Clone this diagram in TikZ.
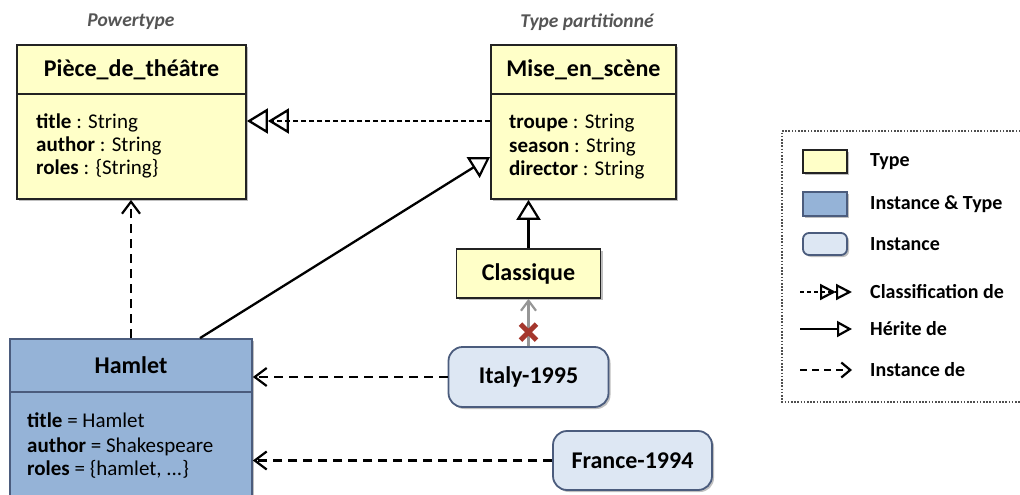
\documentclass[tikz,border=0pt]{standalone}
\usepackage{fontspec}
\setmainfont{Carlito}
\usetikzlibrary{arrows.meta,shadows,calc}
\definecolor{typeYellow}{RGB}{255,255,200}
\definecolor{itBlue}{RGB}{149,179,215}
\definecolor{instFill}{RGB}{221,231,243}
\definecolor{instLine}{RGB}{75,92,125}
\definecolor{boxLine}{RGB}{35,35,35}
\definecolor{capGray}{RGB}{85,85,85}
\definecolor{crossRed}{RGB}{165,55,45}
\definecolor{grayArrow}{RGB}{150,150,150}
\tikzset{
  shd/.style={drop shadow={shadow xshift=2pt,shadow yshift=-2pt,opacity=0.25,fill=black}},
  typebox/.style={draw=boxLine,line width=1.8pt,fill=typeYellow,shd,inner sep=0pt},
  itbox/.style={draw=instLine,line width=1.8pt,fill=itBlue,shd,inner sep=0pt},
  instbox/.style={draw=instLine,line width=1.8pt,fill=instFill,rounded corners=14pt,shd,inner sep=0pt,
     font=\fontsize{24}{26}\selectfont\bfseries},
  hdr/.style={font=\fontsize{24}{26}\selectfont\bfseries},
  attr/.style={font=\fontsize{21}{23}\selectfont,anchor=base west,inner sep=0pt},
  capt/.style={font=\fontsize{19.5}{21}\selectfont\bfseries\itshape,text=capGray,inner sep=0pt},
  legtxt/.style={font=\fontsize{20}{22}\selectfont\bfseries,anchor=west,inner sep=0pt},
  inhr/.style={line width=2.3pt,-{Triangle[open,length=20pt,width=24pt,line width=2.2pt]}},
  clsf/.style={line width=2pt,dash pattern=on 5pt off 3pt,
     -{Triangle[open,length=21pt,width=25pt,line width=2.3pt] Triangle[open,length=21pt,width=25pt,line width=2.3pt]}},
  instof/.style={line width=2.3pt,dash pattern=on 9pt off 6pt,-{Straight Barb[length=12pt,width=18pt,line width=2.2pt]}},
}
\begin{document}
\begin{tikzpicture}[x=1pt,y=-1pt]
\useasboundingbox (0,0) rectangle (1020,495);

% captions
\node[capt] (capPiece) at (131,22) {Powertype};
\node[capt] (capMise) at (587,22) {Type partitionné};

% Piece_de_theatre
\node[typebox,minimum width=229pt,minimum height=49pt] (pieceHead) at (131.5,69.5) {};
\node[typebox,minimum width=229pt,minimum height=105pt] (pieceBody) at (131.5,146.5) {};
\node[hdr] (pieceTitle) at (pieceHead.center) {Pièce\_de\_théâtre};
\node[attr] (pa1) at (36,128) {\textbf{title} : String};
\node[attr] (pa2) at (36,151) {\textbf{author} : String};
\node[attr] (pa3) at (36,174) {\textbf{roles} : \{String\}};

% Mise_en_scene
\node[typebox,minimum width=185pt,minimum height=49pt] (miseHead) at (583.5,69.5) {};
\node[typebox,minimum width=185pt,minimum height=105pt] (miseBody) at (583.5,146.5) {};
\node[hdr] (miseTitle) at (miseHead.center) {Mise\_en\_scène};
\node[attr] (ma1) at (509,128) {\textbf{troupe} : String};
\node[attr] (ma2) at (509,152) {\textbf{season} : String};
\node[attr] (ma3) at (509,175) {\textbf{director} : String};

% Classique
\node[typebox,minimum width=144pt,minimum height=49pt,hdr] (classique) at (528.5,273.5) {Classique};

% Hamlet
\node[itbox,minimum width=242pt,minimum height=53pt] (hamletHead) at (131,365.5) {};
\node[itbox,minimum width=242pt,minimum height=128pt] (hamletBody) at (131,456) {};
\node[hdr] (hamletTitle) at (hamletHead.center) {Hamlet};
\node[attr] (ha1) at (27,427) {\textbf{title} = Hamlet};
\node[attr] (ha2) at (27,452) {\textbf{author} = Shakespeare};
\node[attr] (ha3) at (27,475) {\textbf{roles} = \{hamlet, ...\}};

% instances
\node[instbox,minimum width=160pt,minimum height=60pt] (italy) at (528.5,377) {Italy-1995};
\node[instbox,minimum width=159pt,minimum height=59pt] (france) at (632.5,460.5) {France-1994};

% connectors
\draw[clsf] ($(miseBody.west)+(0,-25.5)$) -- ($(pieceBody.east)+(0,-25.5)$);
\draw[inhr] ([xshift=69pt]hamletHead.north) -- ($(miseBody.west)+(0,10.5)$);
\draw[inhr] (classique.north) -- (classique.north |- miseBody.south);
\draw[instof] (hamletHead.north) -- (hamletHead.north |- pieceBody.south);
\draw[instof] (italy.west) -- (italy.west -| hamletHead.east);
\draw[instof] (france.west) -- (france.west -| hamletBody.east);
\draw[grayArrow,line width=2.2pt,-{Straight Barb[length=10pt,width=15pt,line width=2.2pt]}] (italy.north) -- (classique.south);
\coordinate (xc) at ($(italy.north)+(0,-14)$);
\draw[crossRed,line width=5pt] ($(xc)+(-8,-8)$) -- ($(xc)+(8,8)$) ($(xc)+(-8,8)$) -- ($(xc)+(8,-8)$);

% legend
\draw[boxLine!80,line width=1.6pt,dash pattern=on 1.6pt off 1.6pt] (1030,131) -- (782,131) -- (782,402) -- (1030,402);
\node[typebox,minimum width=44pt,minimum height=23pt] (lgType) at (825,161.5) {};
\node[itbox,minimum width=44pt,minimum height=24pt] (lgIT) at (825,204) {};
\node[instbox,rounded corners=6pt,minimum width=44pt,minimum height=22pt] (lgInst) at (825,244) {};
\node[legtxt] (ltType) at (870,162) {Type};
\node[legtxt] (ltIT) at (870,204) {Instance \& Type};
\node[legtxt] (ltInst) at (870,244) {Instance};
\node[legtxt] (ltCls) at (870,292) {Classification de};
\node[legtxt] (ltInh) at (870,329) {Hérite de};
\node[legtxt] (ltIns) at (870,370) {Instance de};
\coordinate (c1a) at (800,292); \coordinate (c1b) at (852,292);
\coordinate (c2a) at (800,329); \coordinate (c2b) at (852,329);
\coordinate (c3a) at (800,370); \coordinate (c3b) at (852,370);
\draw[line width=2pt,dash pattern=on 4pt off 3pt,
  -{Triangle[open,length=16pt,width=16pt,line width=2.2pt] Triangle[open,length=16pt,width=16pt,line width=2.2pt]}] (c1a) -- (c1b);
\draw[line width=2.3pt,-{Triangle[open,length=15pt,width=16pt,line width=2.2pt]}] (c2a) -- (c2b);
\draw[line width=2.3pt,dash pattern=on 7pt off 5pt,-{Straight Barb[length=9pt,width=15pt,line width=2.2pt]}] (c3a) -- (c3b);
\end{tikzpicture}
\end{document}
